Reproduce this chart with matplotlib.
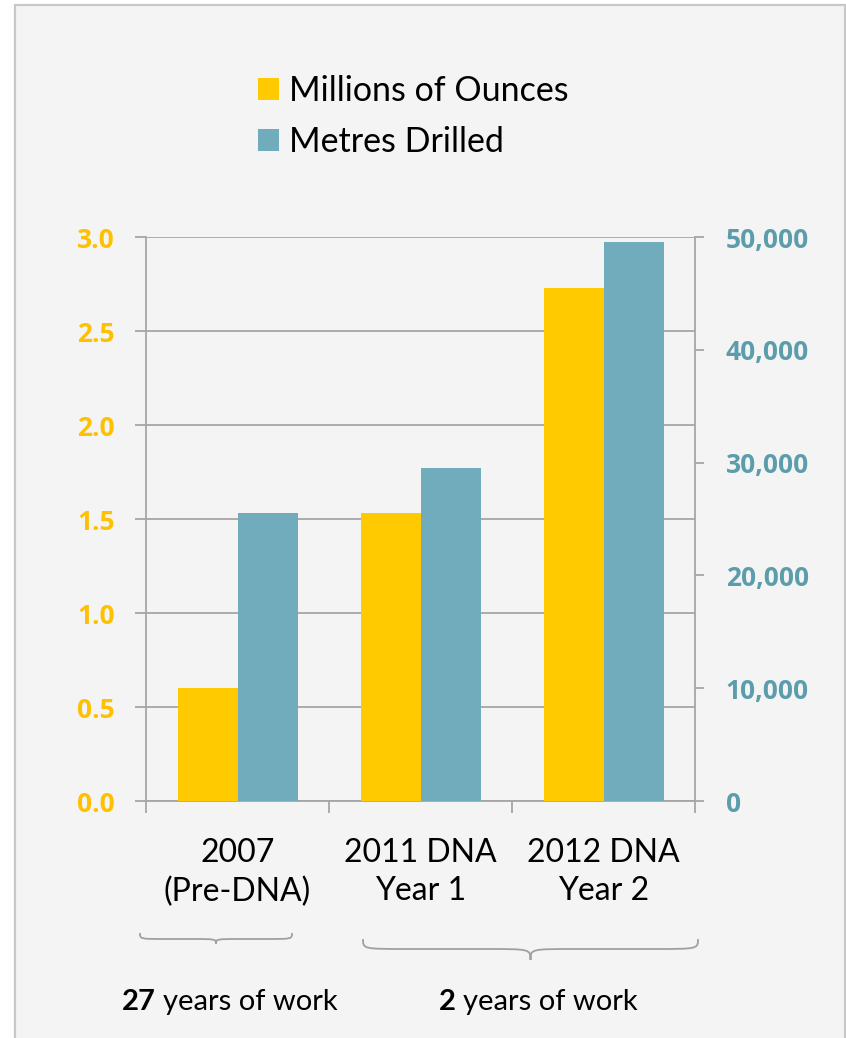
import matplotlib
matplotlib.use("Agg")
import matplotlib.pyplot as plt
import numpy as np
from matplotlib.patches import Rectangle, Patch, PathPatch
from matplotlib.path import Path
from matplotlib.ticker import FixedLocator
from matplotlib.font_manager import FontProperties
import matplotlib.transforms as mtrans

plt.rcParams['font.family'] = ['Lato', 'DejaVu Sans']

# ---- data ----
categories = ["2007\n(Pre-DNA)", "2011 DNA\nYear 1", "2012 DNA\nYear 2"]
ounces_millions = [0.60, 1.53, 2.73]
metres_drilled = [25500, 29500, 49600]
series_names = ["Millions of Ounces", "Metres Drilled"]
left_ticks = [0.0, 0.5, 1.0, 1.5, 2.0, 2.5, 3.0]
right_ticks = [0, 10000, 20000, 30000, 40000, 50000]
group_notes = [("27", "years of work"), ("2", "years of work")]

YELLOW = "#FFCA00"
TEAL = "#70ACBC"
GOLD_TXT = "#FFC000"
TEAL_TXT = "#5C9DAC"
GRID = "#A6A6A6"

W, H = 846, 1038
fig = plt.figure(figsize=(W / 100, H / 100), dpi=100)
fig.patch.set_facecolor("white")

# pixel (from top-left) -> figure transform
pix = mtrans.Affine2D().scale(1 / W, -1 / H).translate(0, 1) + fig.transFigure

# panel background
panel = Rectangle((15, 5), 830, 1100, transform=pix, facecolor="#F4F4F4",
                  edgecolor="#C8C8C8", linewidth=1.6, zorder=-10)
fig.patches.append(panel)

# axes
x0, x1, ytop, ybot = 146, 695, 237, 801
ax = fig.add_axes([x0 / W, 1 - ybot / H, (x1 - x0) / W, (ybot - ytop) / H])
ax.set_facecolor("none")
ax2 = ax.twinx()
ax2.set_facecolor("none")

x = np.arange(len(categories))
bw = 60 / 183
ax.bar(x - bw / 2, ounces_millions, width=bw, color=YELLOW, zorder=3)
ax2.bar(x + bw / 2, metres_drilled, width=bw, color=TEAL, zorder=3)

ax.set_xlim(-0.5, len(categories) - 0.5)
ax.set_ylim(0, 3.0)
ax2.set_ylim(0, 50000)

ax.set_axisbelow(True)
ax.grid(axis="y", color=GRID, linewidth=1.3)
ax.grid(axis="x", visible=False)

for a in (ax, ax2):
    for s in a.spines.values():
        s.set_visible(False)
ax.spines["left"].set_visible(True)
ax.spines["bottom"].set_visible(True)
ax2.spines["right"].set_visible(True)
for s in (ax.spines["left"], ax.spines["bottom"], ax2.spines["right"]):
    s.set_color(GRID)
    s.set_linewidth(1.3)

ax.tick_params(axis="y", length=7.9, width=1.3, color=GRID, pad=14.4)
ax2.tick_params(axis="y", length=6.5, width=1.3, color=GRID, pad=15.5)

bold_fp = FontProperties(family=["Open Sans", "DejaVu Sans"], weight="bold", size=19)
ax.set_yticks(left_ticks, labels=[f"{v:.1f}" for v in left_ticks],
              fontproperties=bold_fp, color=GOLD_TXT)
ax2.set_yticks(right_ticks, labels=[f"{v:,}" for v in right_ticks],
               fontproperties=bold_fp, color=TEAL_TXT)

ax.set_xticks(x)
ax.set_xticklabels(categories, fontsize=23, color="black", linespacing=1.32)
ax.xaxis.set_minor_locator(FixedLocator(np.arange(-0.5, len(categories), 1.0)))
ax.tick_params(axis="x", which="major", length=0, pad=27)
ax.tick_params(axis="x", which="minor", length=8.6, width=1.3, color=GRID)

# legend
handles = [Patch(facecolor=YELLOW, edgecolor="none"), Patch(facecolor=TEAL, edgecolor="none")]
fs = 24.5
fpx = fs * 100 / 72
fig.legend(handles, series_names, loc="upper left",
           bbox_to_anchor=(258 / W, 1 - 75 / H), frameon=False, fontsize=fs,
           handlelength=21 / fpx, handleheight=21 / fpx, handletextpad=10 / fpx,
           borderpad=0, borderaxespad=0, labelspacing=0.57)

# braces
def brace(xl, xr, y_end, y_mid, y_tip, r):
    xc = (xl + xr) / 2
    verts = [(xl, y_end),
             (xl, y_mid), (xl, y_mid), (xl + r, y_mid),
             (xc - r, y_mid),
             (xc, y_mid), (xc, y_mid), (xc, y_tip),
             (xc, y_mid), (xc, y_mid), (xc + r, y_mid),
             (xr - r, y_mid),
             (xr, y_mid), (xr, y_mid), (xr, y_end)]
    codes = [Path.MOVETO,
             Path.CURVE4, Path.CURVE4, Path.CURVE4,
             Path.LINETO,
             Path.CURVE4, Path.CURVE4, Path.CURVE4,
             Path.CURVE4, Path.CURVE4, Path.CURVE4,
             Path.LINETO,
             Path.CURVE4, Path.CURVE4, Path.CURVE4]
    p = PathPatch(Path(verts, codes), transform=pix, facecolor="none",
                  edgecolor="#A0A0A0", linewidth=1.3)
    fig.patches.append(p)

brace(140, 292, 933, 939, 944, 25)
brace(363, 698, 939, 949, 960, 45)

# group notes
note_pos = [(156, 163), (456, 463)]
for (num, rest), (xr, xl) in zip(group_notes, note_pos):
    fig.text(xr / W, 1 - 1010 / H, num, ha="right", va="baseline",
             fontsize=21, fontweight="bold", color="black")
    fig.text(xl / W, 1 - 1010 / H, rest, ha="left", va="baseline",
             fontsize=21, color="black")

fig.savefig("out.png", dpi=100, facecolor=fig.get_facecolor())
